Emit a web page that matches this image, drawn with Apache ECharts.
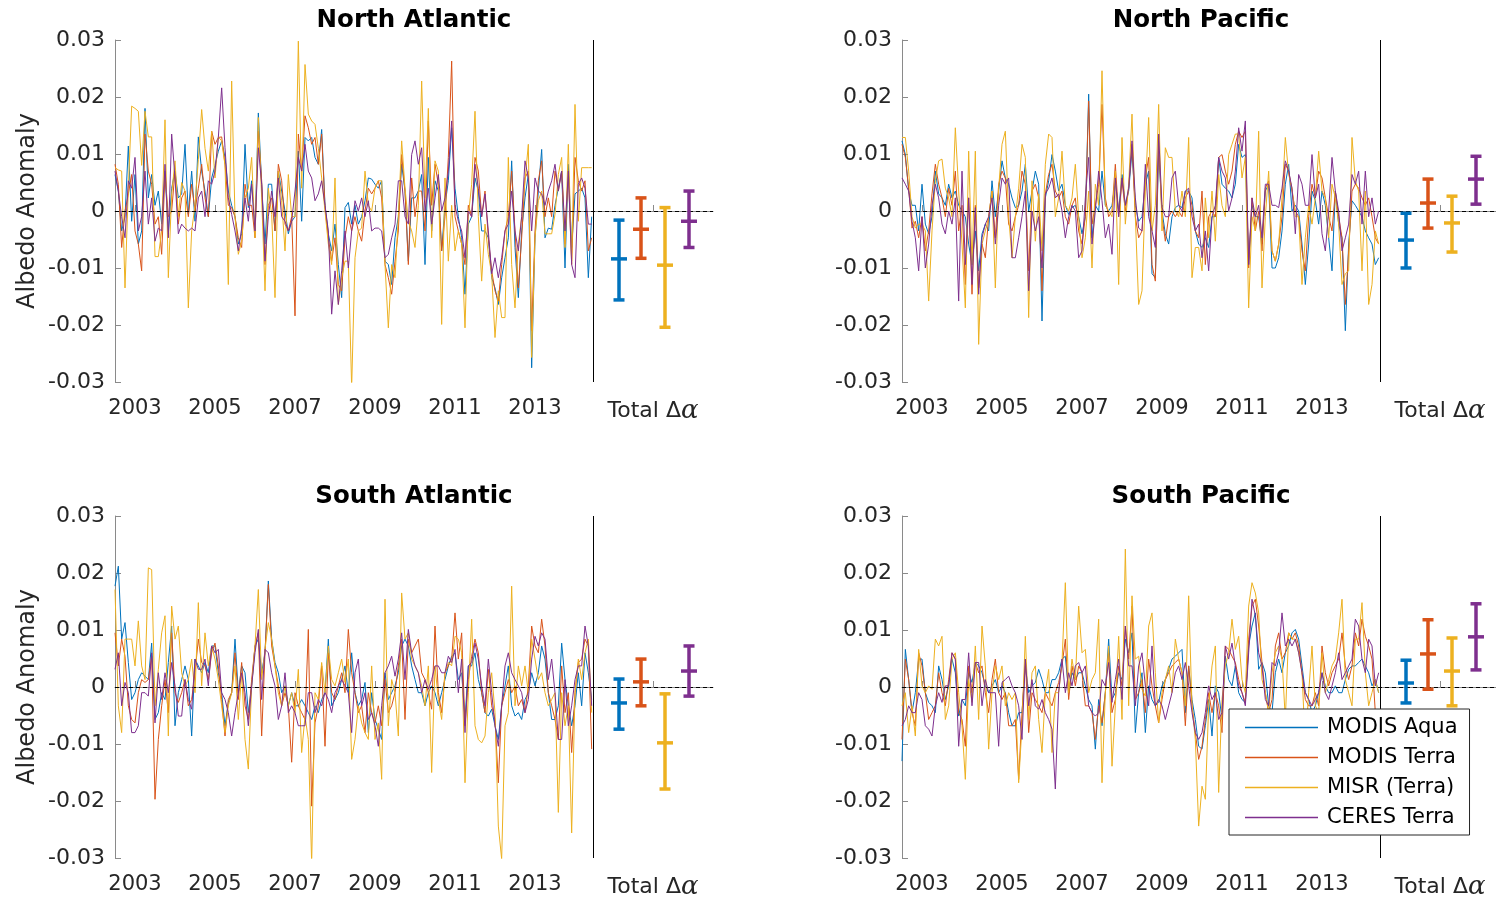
<!DOCTYPE html>
<html>
<head>
<meta charset="utf-8">
<script src="https://cdn.jsdelivr.net/npm/echarts@6/dist/echarts.min.js"></script>
<style>
  html, body { margin: 0; padding: 0; background: #fff; }
  #main { width: 1496px; height: 900px; }
</style>
</head>
<body>
<div id="main"></div>
<script>
// monthly anomalies, in units of 0.001 (Jul 2002 .. Jun 2014)
const startYear = 2002.5
const monthCount = 144

const seriesNames = ['MODIS Aqua', 'MODIS Terra', 'MISR (Terra)', 'CERES Terra']
const seriesColors = ['#0072BD', '#D95319', '#EDB120', '#7E2F8E']

const naAqua = [6.4,3.5,-3.5,-1,11.4,-1.8,6.4,-5.8,-3.5,18,2.3,6.4,1,3.5,-2.3,7,-4,4,7,2.3,3,11.7,-0.6,7,-1.8,13,7,3.5,-1,5.8,8,10.5,12.3,9.4,3.5,1,-1,-5.8,-4,11.7,0.6,5.3,-3.5,17.2,4.7,-5.8,4.7,4.7,-3.5,7,3.5,0,-4,-1.8,-1,10.5,-1.8,12.9,12.3,12.9,9.4,8.2,14.3,1,-4,-7,-2.3,-9.4,-15.2,0.6,1.5,-2.3,
  1,-2.3,-1,1.8,5.8,5.6,4.7,4,5.3,-8.8,-9.4,-12.9,-4.7,-1,8.2,3.5,-8.8,2.3,2.3,3.5,6.4,-9.4,9.4,-3.5,5.3,3.5,-7,1,5.3,14.6,4,-1,-4.7,-14.6,-2.3,-1,5.8,3.5,-3.5,-3.5,-4.7,-11.7,-13.5,-16.4,-11.7,-8.2,-4.7,8.8,-6.4,-15.2,-3.5,2.3,6.4,-27.5,-4.7,3.5,10.8,-4.7,-3,-3.2,1,4,7,-10,8.2,-6.4,3,3.5,4,2.3,-11.7,-1]
const naTerra = [8.2,4.7,-6.4,0,3,6.4,-3.5,-5.8,-10.5,13.5,7,4.7,-2.3,-1,-7.6,6.4,-1,0,7,-2.3,2.3,3.5,-1,4.7,0,4,8.2,2.3,-1,14,11.7,12.9,13,8.2,1,0.6,-1,-4.7,-6.4,4.7,1,1,-4.7,14,5.3,-9.4,1,2.3,-3.5,8.2,5.3,-2.3,-3.5,-1,-18.4,13.5,7,16.7,14.6,11.7,12.9,8.2,13.5,0.6,-4.7,-8.8,-4.7,-12.9,-14,-4.7,-1,-3.5,
  -1,-3.5,-5.3,0,4,3,4,5.3,2.3,-9.4,-11.7,-14.6,-8.8,-3.5,9.9,3.5,-9.4,5.8,-1,3.5,3.5,-3.5,15.8,1,8.2,4.7,-7,-1,9.4,26.3,-1,-3.5,-5.8,-9.4,1,-1,9.4,7,-1,3.5,-4.7,-10.5,-14,-15.8,-9.4,-3.5,-1,7,-3.5,-13.5,-4.7,5.8,7,-21,-3.5,5.3,8.8,-1,2.3,-1,7,3.5,7,-5.8,7,-9.4,9.4,5.3,3.5,5.3,-7,-4.7]
const naMisr = [7.6,7.2,7,-13.5,4,18.4,18,17.5,8,17.5,13,13,-8,-8,-3.5,16,-11.7,3,8.8,-1,5,3.5,-17,-3.5,1,9,17.8,11,7,14,5.8,13,12.3,8,-12.9,22.8,-1,-7.6,-5.3,2.3,4,9.4,-4.7,16.4,2.3,-14,4,-0.6,-15.2,7,1.8,-7,6.4,-1,-1,29.8,4,25.7,17,15.8,15.2,11,5.8,0,-5.8,-9.4,5.8,-16.4,-11.7,-8.8,-8.8,-31,
  -8.2,-3.5,-3,7,1,0,4,5.3,5.3,-9.4,-20.5,-9.4,-11.7,-1,12.3,4,-1.8,-3.5,-6.4,1,22.8,2.3,18,-4.7,8.8,7,-19.9,5.8,-8.8,1,-7,-3.5,-5.8,-20.5,-1,4.7,17.5,-1,-12.3,-2.3,-7.6,-11,-22.2,-14,-18.7,-18.7,9.4,-9.4,-17,-5.8,-1,5.3,11.7,-25.7,-4.7,1.8,3.5,-4,-4,-4,-0.6,6.4,9.4,-6.4,11.7,-8.8,18.7,-1.8,7.6,7.6,7.6,7.6]
const naCeres = [7,3.5,-1,-4.7,5.3,4,9.4,-3.5,-1,7,-2.3,2.3,-5.3,-3,-3.5,8.2,-4.7,13.5,5.8,-4,-2.3,-3,-3.5,-3,-3.5,2.3,3.5,-1,5.3,4.7,7,12.9,21.6,11.1,2.3,-0.6,-3.5,-7,-3,2.3,-1.8,4.7,-3.5,11.1,4.7,-8.8,-1,3.5,-1,5.8,-1,-1.8,-3.5,-1.8,3.5,9.4,7,11.7,7,5.8,1.8,3,5.3,1,-3.5,-18.1,-10.5,-16.4,-10.5,-3.5,-10,-3.5,
  1.8,0,2.3,-1,1.8,-3.5,-3,-3,-3.5,-8.2,-7.6,-4.7,-2.3,5.3,5.3,-1,-2.3,9.9,12.3,8.2,11.1,0,4,-2.3,2.3,6.4,0,2.3,7,15.8,1,-1.8,-3.5,-8.2,0,-1,8.2,4,-1,3,-3.5,-11,-8.2,-11.7,-8.2,-3.5,-2.3,3.5,-3.5,-7,-1,8.8,5.8,-3.5,5.8,3.5,3,1,3.5,5.3,8.2,3.5,7,-3.5,7,-9.4,-11.7,4.7,5.8,4,-2.3,-2.3]

const npAqua = [12.3,9.9,3.5,1,1,-3.5,4.7,-2.3,-4,-1,7,3,2.3,1,4.7,2.3,3.5,1,0,-1,-5.8,-9.4,-3.5,-10.5,-4,-2.3,-3.5,5.3,-1,3.5,8.8,5.8,4.7,2.3,0.6,1,3.5,8.2,0,3.5,7,4.7,-19.3,2.3,5.3,9.9,7,3.5,4.7,1,-0.6,0.6,1,-1,-4,-1,20.5,-4.7,1,0,7,1,0,1,5.3,0,6.4,1,3.5,10.5,1,-1.8,
  -1,4.7,7,-11,-11.7,10.5,0,-4,-5.8,-1,0.6,1,0.6,3.5,3.5,2.3,-3.5,-5.8,-6.4,-4.7,-6.4,-1,-1,9.4,4.7,4,3.5,2.3,4.7,11.7,9.4,9.9,-9.4,1,-1,-1,-5.8,3.5,4.7,-10,-10,-8.2,-3.5,4.7,8.2,0,1,0,-5.8,-12.9,-5.8,3.5,1.8,-2.3,3.5,1,-4.7,-10.5,3.5,-2.3,-4.7,-21,-5.8,1.8,1,0,-1,-3.5,-4.7,-5.8,-9.4,-8.2]
const npTerra = [11.7,9.4,4,-3,-1.8,-4.7,-1,-7,-3.5,3,8.2,4.7,2.3,-1,4,1,7,-3.5,1,-12.9,2.3,-14.6,1,-13.5,-5.8,-8.2,-1,3.5,-4.7,4.7,7,5.8,-2.3,-3.5,-1,1,7,4.7,-10.5,3.5,4.7,2.3,-14,3,6.4,8.2,3.5,2.3,3.5,-1,-2.3,1,2.3,-3.5,-5.8,-1,19.3,-2.3,1,4.7,18.7,2.3,-1,0,8.2,-1,5.3,0,4,11.7,-1,-4.7,
  -3.5,5.8,9.4,-9.4,-12.3,12.3,-1,-5.3,-1,0,-1,0,-1,2.3,3.5,1,-3.5,-4.7,3.5,-9.4,-1,0,-1,9.4,9.9,7,4.7,7,11.7,14,12.9,14,-10,2.3,-3.5,0,-7,4,5.3,-7,-8.8,-5.8,-1,8.2,7,3.5,0,-1,-7,-10.5,-1,4.7,2.3,7,5.8,2.3,-1,-3.5,3.5,-1,-4.7,-16.4,-7,3.5,4.7,4,2.3,1,2.3,-1,-4.7,-5.8]
const npMisr = [12.9,12.9,7,-1,-3,-2.3,-2.3,-3.5,-15.8,-3.5,5.3,8.8,9.1,4,2.3,-1,14.6,3.5,-5.8,-17,10.5,-9.4,10.5,-23.4,-5.8,-3.5,-1,3.5,-13.5,4,11.7,14,-1,-8.2,-1,4,11.7,9.4,-18.7,5.3,-5.3,3,-7,8.2,13.5,12.9,-1,2.3,10.5,1,0,2.3,8.2,-1,-8.2,-4.7,3.5,-10,4.7,1,24.6,1,0,-1,7,-12.9,12.9,-2.3,4.7,17,-1,-16.4,
  -14,3.5,16.4,-3.5,1,18.7,-3.5,11.1,9.4,9.4,0,-1,3.5,-1,12.9,-11.7,-6.4,-6.4,-10.5,2.3,-4.7,3.5,-5.3,6.4,1,-1,9.9,11.7,13.5,13.5,5.8,9.4,-17,-1,-3.5,14,-13.5,-1,7,-7,-8.8,-5.8,2.3,12.9,6.4,4,-1,-1,-12.9,-4.7,1,-2.3,2.3,10.5,3.5,2.3,-4.7,4.7,2.3,-2.3,-12.9,-11,-10.5,12.9,5.3,3.5,-10.5,3.5,-16.4,-12.9,-3.5,-5.8]
const npCeres = [5.8,4.7,3.5,-1.8,-4.7,-10.5,-1,-10,-5.8,1,4.7,2.3,-2.3,-4,0,-2.3,2.3,-15.8,7,-9.4,2.3,-12.9,0.6,-14.6,-4.7,-2.3,-1,2.3,-5.8,1,5.8,4.7,5.8,-8.2,-8.2,-4.7,-1,3.5,-14,0,-3.5,-1,-10,3,4,5.8,2.3,3,0,-4.7,-1,1,0,-8.2,-7,2.3,9.4,-5.8,0,7,1.8,-4.7,-2.3,-7.6,5.8,-1,5.8,1,4,12.3,2.3,-3,
  -3.5,8.2,-1,-3.5,-6.4,13.5,0.6,-1,-1,5.8,7,1,0,3.5,4,-1,-3.5,-2.3,-8.2,-3.5,-10.5,-1,1,9.4,7,5.8,0,2.3,7,14.6,10.5,15.8,-9.4,2.3,-1,1,-4.7,4.7,4.7,1,1,0.6,4,8.8,7,4,-4,6.4,4.7,1,1,9.9,2.3,4.7,-4,-7,0,9.4,3.5,0,-7,-4.7,-2.3,6.4,4.7,7,-2.3,7,-1,2.3,-2.3,0]

const saAqua = [17.7,21.2,8.4,11.3,4.3,-2.2,-1,1.3,2.5,1.9,1.3,7.7,-5.7,-4.5,-1,-2.2,4.3,10.7,-6.8,-1,1.3,3.7,1.3,-8.6,4.9,3.7,2.5,4.3,2.5,7.2,7.2,2.5,-1,-6.8,-2.7,-1,8.4,-1,3.7,2.5,-4.5,0.2,7.2,8.4,2.5,6,18.6,8.4,4.3,2.5,-1,0.2,-3.3,-1,-3.3,-3.3,-2.2,-3.3,-4.5,-5.7,-3.3,-4.5,-2.2,-1,8.4,-3.3,-2.2,-1,1.3,3.7,-1,6,
  -1,-3.3,-2.2,0.8,-8,-1,-5.7,-7.4,-9.2,2.5,-2.2,-1,0.2,2.5,7.2,8.4,7.2,3.7,1.3,-1,-1,-3.3,-1,0.2,-1,-3.3,-1,1.3,3.7,5.4,6,1.3,2.5,-5.7,3.7,3.7,6,1.3,-1,-4.5,-5.1,-3.9,-6.8,-9.2,-3.3,0.2,3.7,-3.3,-5.1,-4.5,-5.7,-2.2,-1,2.5,0.2,2.5,7.2,4.9,-1,-5.7,-5.7,-3.3,7.7,1.3,-3.3,-6.8,-3.3,2.5,-3.3,6,2.5,-2.2]
const saTerra = [9.5,3.7,8.4,5.4,-3.3,-5.7,-6.3,-1,1.3,0.8,1.3,5.4,-19.7,-9.2,-3.3,1.3,-4.5,9.5,-1,-2.7,-1,1.3,-3.3,-2.2,2.5,8.4,4.3,3.7,1.3,6,7.7,3.7,-2.2,-8.6,-2.2,-1,6,-2.2,4.3,-3.3,-5.7,1.3,7.2,9.5,-8.6,6,18,7.2,3.7,0.2,-3.3,-1,-3.3,-13.2,-1,-3.3,-4.5,-5.7,10.1,-20.9,-6.3,-3.3,3.7,-10.4,6,-1,-2.2,0.2,2.5,-1,10.1,2.5,
  -1,-4.5,-3.3,-8,-1,-4.5,-6.3,-3.3,-6.8,1.3,-4.5,-3.3,-1,3.7,8.4,-5.7,8.4,6,7.2,8.4,2.5,1.3,-1,-3.9,10.7,-1,-4.5,2.5,3.7,4.9,13,4.9,9.5,-6.8,1.3,5.4,8.4,6,-1,-4.5,3.1,-3.3,-5.7,-16.8,-3.3,-1,1.3,-1,0.2,-3.3,-2.2,-4.5,0.2,10.7,7.2,6,11.9,7.2,-1,-3.3,-5.7,-9.2,3.7,-4.5,-1,-11.5,-1,4.3,4.9,8.4,7.2,-10.9]
const saMisr = [17.1,-3.3,-8,8.4,8.4,8.4,3.7,11.6,3.7,1.3,20.9,20.6,-3.3,3.1,9.5,12.5,-8.6,14.2,8.4,10.7,2.5,0.2,1.3,4.9,-1,14.8,0.2,9.5,3.7,7.2,4.9,1.3,-3.3,-8,-3.3,-1,3.7,-5.7,2.5,-9.2,-14.4,0.2,7.2,17.1,1.3,6.6,11.3,8.4,3.7,-1,-3.3,0.2,-3.3,-1,-4.5,3.1,-11.5,-5.1,-9.2,-31,-1,-2.2,4.3,-1,7.2,1.3,0.2,2.5,4.9,0.8,4.9,-12.7,
  -9.2,-3.3,-6.3,-8,-9.2,3.7,-9.2,-6.3,-16.2,15.4,-6.8,1.3,-1,-8.6,16.5,8.4,9.5,4.9,3.7,2.5,0.2,-3.3,3.7,-15,3.7,-2.2,-5.7,2.5,4.3,3.7,8.9,8.4,6,-16.8,-1,11.9,-6.8,-9.2,-9.8,-8.6,-1,2.5,-4.5,-24.4,-30.2,-6.8,-4.5,17.7,-3.3,3.7,0.2,3.7,-1,8.4,4.9,1.3,2.5,-1,-3.3,-2.2,-1,-22,-1,-6.8,-3.3,-25.6,-1,4.9,1.3,6,8.4,-4.5]
const saCeres = [3.1,6,-3.3,0.8,-1,-8,-8,-6.8,-1,-1,-1.6,6,-6.3,2.5,-2.2,2.5,-1,4.3,0.2,-5.1,-5.1,1.3,-2.2,-3.9,4.9,3.1,3.1,4.9,0.2,7.2,6,6.6,-1,-2.2,-4.5,-8.6,-4.5,-1,2.5,-1,-6.8,0.2,6,10.1,-2.2,6.6,6,2.5,0.2,-5.7,-3.3,2.5,-4.5,-3.3,-4.5,-6.8,-6.8,-6.8,-1,-1,-4.5,-2.2,-3.3,-1,-2.2,-4.5,-1,0.2,1.3,0.2,-1,-8,
  2.5,4.9,-3.3,-1,-5.7,-4.5,-6.8,-10.4,-3.3,2.5,3.7,5.4,1.9,4.9,9.5,1.3,10.1,6,3.7,2.5,-1,1.3,-0.4,1.3,3.7,3.7,2.5,2.5,5.4,4.3,6.6,-1,4.9,-8,3.7,4.3,7.7,4.9,0.2,-3.3,4.9,-1,-6.8,-10.4,-3.3,3.7,6,2.5,1.3,0.2,-1,-4.5,-2.2,4.9,8.9,7.2,9.5,8.4,1.3,4.9,-1,-9.2,-9.2,1.3,-6.8,-3.3,1.3,3.7,3.7,10.7,7.2,-3.3]

const spAqua = [-13,6.6,1.3,-4.5,-1,4.9,4.9,-1,-2.7,-3.3,-4.5,3.7,1.3,-2.2,0.2,4.9,2.5,-5.1,-2.2,-3.3,2.5,0.8,4.3,3.7,2.5,0.2,-1,0.2,1.3,-1,0.2,-1,-4.5,-6.8,-6.8,-4.5,-4.5,3.7,-1,0.2,0.8,3.1,1.3,-1,-1,1.3,1.3,2.5,4.9,5.4,-1,2.5,1.3,2.5,2.5,0.2,-2.2,-3.3,-10.9,-2.2,-6.8,-1,8.4,-2.2,-1,2.5,1.3,8.4,6,9.5,-8,-1,
  2.5,-8,0.2,-2.2,-3.3,-2.7,0.2,1.3,3.1,4.9,5.4,6,6.6,-4.5,3.7,-2.2,-5.7,-10.4,-10.9,-6.8,-2.2,-8.6,0.2,-1,-5.7,5.4,1.3,0.2,3.7,-1,-2.2,-2.7,7.2,10.7,13,3.1,4.3,2.5,-3.3,-4.5,2.5,4.9,2.5,6,7.2,9.5,10.1,8.4,3.7,-1,-2.2,-4.5,-3.3,-1,2.5,0.2,-1,-1,0.2,-1,-1,1.3,3.1,3.7,3.7,4.3,4.9,3.7,2.5,0.2,1.3,-1]
const spTerra = [-9.2,4.9,1.3,-4.5,-6.8,6,3.7,-1,-5.7,-4.5,-3.3,2.5,-1,-3.3,1.3,6,4.9,-4.5,-5.7,-10.4,3.7,-1,4.3,2.5,3.7,-1,-4.5,1.3,4.9,-1,-2.2,-1,-6.8,-6.8,-5.7,-16.2,-4.5,4.9,-8,-1,-2.2,-3.3,-4.5,-1,-2.2,-3.3,-1,0.8,3.7,8.4,-2.2,3.7,0.2,3.7,2.5,-3.3,-3.3,-4.5,-9.2,-3.3,-6.3,-1,6,-4.5,-2.2,3.7,0.2,10.7,4.9,14.2,-2.2,-1,
  1.3,-4.5,4.9,0.2,-3.3,-6.3,-2.2,1.3,2.5,3.7,4.3,4.9,2.5,-6.8,3.7,-3.3,-8,-12.7,-10.4,-5.7,-1,-4.5,-1,-3.3,-8,7.2,6.6,5.4,4.3,1.3,-1,-2.7,8.4,14.2,15.4,10.7,4.3,-1,-4.5,-2.2,7.2,9.5,4.9,6,9.5,8.4,9.5,7.2,2.5,-2.2,-3.3,-3.3,-1,-3.3,7.2,2.5,0.2,2.5,3.7,4.9,9.5,3.7,1.3,3.7,9.5,7.2,11.9,8.9,7.2,4.9,-4.5,-5.7]
const spMisr = [-3.3,-1,-8,-3.3,-8.6,6.6,0.2,-1,0.2,-0.4,8.4,7.2,8.9,-5.7,-3.3,4.9,6,-1,-6.8,-16.2,1.3,-2.7,7.2,-5.7,10.7,3.7,-10.9,-1,3.7,1.3,3.7,-3.3,-1,-2.2,-1,-16.8,-6.8,8.9,-5.7,2.5,3.7,-5.7,-11.5,-1,3.1,-11.5,-1,-1,4.3,18.3,-1,4.9,1.3,14.2,6,6.6,-1,1.3,2.5,11.9,-16.8,-1,7.2,-13.9,-3.3,8.9,-5.7,24.2,-3.3,16,4.9,5.4,
  -0.4,-1.6,10.7,13,2.5,-6.3,-1,1.3,3.7,-1,8.4,4.9,2.5,-3.3,16,-3.3,-9.2,-24.4,-17.4,-19.7,-3.3,3.7,7.2,-18.5,-2.2,3.7,6,11.9,6.6,8.9,1.3,-1,14.2,18.3,16.5,13,1.3,-1,-4.5,2.5,6,7.2,4.9,-5.7,9.5,8.4,8.4,6,2.5,-10.4,-1,7.2,-3.3,-4.5,6,-1,1.3,3.7,4.9,9.5,15.4,1.3,-1,-3.3,8.4,8.4,14.8,2.5,-3.3,-1,1.3,-1]
const spCeres = [-6.8,-5.7,-3.3,-4.5,-4.5,-1,-2.2,-6.8,-7.4,-8.6,-3.3,-1,-2.7,0.2,0.2,6,4.9,-10.4,-2.2,-2.2,6,-3.3,4.3,4.3,-3.3,1.3,-1,-1,-1,-10.4,0.8,1.3,1.9,0.2,-1,-3.3,-9.2,4.9,-3.3,1.3,-3.3,-3.9,-2.2,-4.5,-5.7,-7.4,-17.9,-1,4.9,-1,2.5,0.2,3.7,4.3,2.5,3.7,-3.3,-4.5,-5.1,-4.5,1.3,0.2,4.3,-2.7,1.3,4.9,-2.2,10.7,3.7,3.7,-3.3,3.7,
  6,0.2,-3.3,7.2,-3.3,-2.2,-3.3,-5.7,-3.3,-1,2.5,3.7,1.3,4.3,0.2,-4.5,-8,-9.2,-8,-4.5,0.2,-2.2,-1,-5.7,-4.5,7.2,4.9,7.7,3.7,0.2,-1,-3.3,6,15.4,12.5,6,3.7,-2.2,-3.3,4.3,3.7,6,13,7.2,8.4,7.2,8.4,6,2.5,-1,-2.2,-3.3,-2.2,-1,2.5,-1,-2.2,0.2,2.5,6,1.3,2.5,3.7,4.9,11.9,10.7,4.9,2.5,8.4,7.2,0.2,2.5]

// total change: [mean, low, high] per dataset, units of 0.001
const naTotal = [[-8.4,-15.6,-1.6],[-3.2,-8.3,2.3],[-9.5,-20.4,0.6],[-1.8,-6.4,3.5]]
const npTotal = [[-5.1,-10,-0.4],[1.4,-3,5.6],[-2.1,-7.2,2.6],[5.6,1.2,9.6]]
const saTotal = [[-2.8,-7.4,1.4],[0.9,-3.3,4.9],[-9.8,-17.9,-1.2],[2.8,-1.6,7.2]]
const spTotal = [[0.7,-2.8,4.7],[5.8,-0.4,11.8],[2.8,-3.3,8.6],[8.8,3,14.6]]

const yearTicks = [2003, 2005, 2007, 2009, 2011, 2013]
const totalTick = 2015.95
const totalSlots = [2015.1, 2015.65, 2016.25, 2016.85]
const splitYear = 2014.45

const monthTimes = []
for (let i = 0; i < monthCount; i++) monthTimes.push(startYear + i / 12)

// right-hand panels run off the page edge, so they are a bit shorter
const panels = [
    {title: 'North Atlantic', lines: [naAqua, naTerra, naMisr, naCeres], totals: naTotal, left: 115, top: 40, width: 598, xMax: 2017.45, yName: true},
    {title: 'North Pacific', lines: [npAqua, npTerra, npMisr, npCeres], totals: npTotal, left: 902, top: 40, width: 594, xMax: 2017.35, yName: false},
    {title: 'South Atlantic', lines: [saAqua, saTerra, saMisr, saCeres], totals: saTotal, left: 115, top: 516, width: 598, xMax: 2017.45, yName: true},
    {title: 'South Pacific', lines: [spAqua, spTerra, spMisr, spCeres], totals: spTotal, left: 902, top: 516, width: 594, xMax: 2017.35, yName: false},
]

const font = 'DejaVu Sans'
const axisGray = '#8a8a8a'
const textColor = '#262626'

function renderBar(params, api) {
    const x = api.value(0)
    const mid = api.coord([x, api.value(1)])
    const lo = api.coord([x, api.value(2)])
    const hi = api.coord([x, api.value(3)])
    const color = seriesColors[params.dataIndex]
    const style = {stroke: color, lineWidth: 3.5}
    const seg = (x1, y1, x2, y2) => ({type: 'line', shape: {x1, y1, x2, y2}, style})
    return {
        type: 'group',
        children: [
            seg(lo[0], lo[1], hi[0], hi[1]),
            seg(lo[0] - 5.5, lo[1], lo[0] + 5.5, lo[1]),
            seg(hi[0] - 5.5, hi[1], hi[0] + 5.5, hi[1]),
            seg(mid[0] - 8, mid[1], mid[0] + 8, mid[1]),
        ]
    }
}

let grids = [], xAxes = [], yAxes = [], series = [], titles = []

panels.forEach((p, k) => {
    grids.push({left: p.left, top: p.top, width: p.width, height: 342})
    titles.push({
        text: p.title, left: p.left + 294, top: p.top - 37, textAlign: 'center',
        textStyle: {fontFamily: font, fontSize: 24.5, fontWeight: 'bold', color: '#000'}
    })
    xAxes.push({
        type: 'value', gridIndex: k, min: 2002.5, max: p.xMax,
        splitLine: {show: false},
        axisLine: {lineStyle: {color: axisGray, width: 1}},
        axisTick: {inside: true, length: 6, lineStyle: {color: axisGray}, customValues: yearTicks.concat([totalTick])},
        axisLabel: {
            customValues: yearTicks.concat([totalTick]),
            margin: 16, fontFamily: font, fontSize: 21, color: textColor,
            formatter: v => v === totalTick ? '{t|Total Δ}{a|α}' : String(v),
            rich: {
                t: {fontFamily: font, fontSize: 22, color: textColor},
                a: {fontFamily: 'DejaVu Serif', fontStyle: 'italic', fontSize: 26, color: textColor}
            }
        }
    })
    yAxes.push({
        type: 'value', gridIndex: k, min: -30, max: 30, interval: 10,
        name: p.yName ? 'Albedo Anomaly' : '', nameLocation: 'middle', nameGap: 75,
        nameTextStyle: {fontFamily: font, fontSize: 24, color: textColor},
        splitLine: {show: false},
        axisLine: {show: true, lineStyle: {color: axisGray, width: 1}},
        axisTick: {show: true, inside: true, length: 6, lineStyle: {color: axisGray}},
        axisLabel: {
            margin: 10, fontFamily: font, fontSize: 22, color: textColor,
            formatter: v => v === 0 ? '0' : (v / 1000).toFixed(2)
        }
    })
    p.lines.forEach((vals, s) => {
        const line = {
            name: seriesNames[s], type: 'line', xAxisIndex: k, yAxisIndex: k,
            data: vals.map((v, i) => [monthTimes[i], v]),
            symbol: 'none', clip: true,
            lineStyle: {width: 1, color: seriesColors[s]},
            itemStyle: {color: seriesColors[s]},
            z: 2 + s
        }
        if (s === 0) {
            line.markLine = {
                silent: true, symbol: ['none', 'none'], label: {show: false},
                data: [
                    {xAxis: splitYear, lineStyle: {type: 'solid', color: '#000', width: 1}},
                    {yAxis: 0, lineStyle: {type: [4, 3], color: '#000', width: 1}}
                ]
            }
        }
        series.push(line)
    })
    series.push({
        name: 'total', type: 'custom', xAxisIndex: k, yAxisIndex: k,
        renderItem: renderBar,
        encode: {x: 0, y: [1, 2, 3]},
        data: p.totals.map((t, i) => [totalSlots[i], t[0], t[1], t[2]]),
        z: 10
    })
})

const chart = echarts.init(document.getElementById('main'))
chart.setOption({
    animation: false,
    backgroundColor: '#fff',
    title: titles,
    grid: grids,
    xAxis: xAxes,
    yAxis: yAxes,
    legend: {
        data: seriesNames, orient: 'vertical', left: 1229, top: 709, z: 30,
        backgroundColor: '#fff', borderColor: '#262626', borderWidth: 1, borderRadius: 0,
        padding: [8, 12, 7, 16], icon: 'rect', itemWidth: 73, itemHeight: 1.3, itemGap: 9,
        textStyle: {fontFamily: font, fontSize: 21, color: '#000', padding: [0, 0, 0, 4]},
        selectedMode: false
    },
    series: series
})
</script>
</body>
</html>
